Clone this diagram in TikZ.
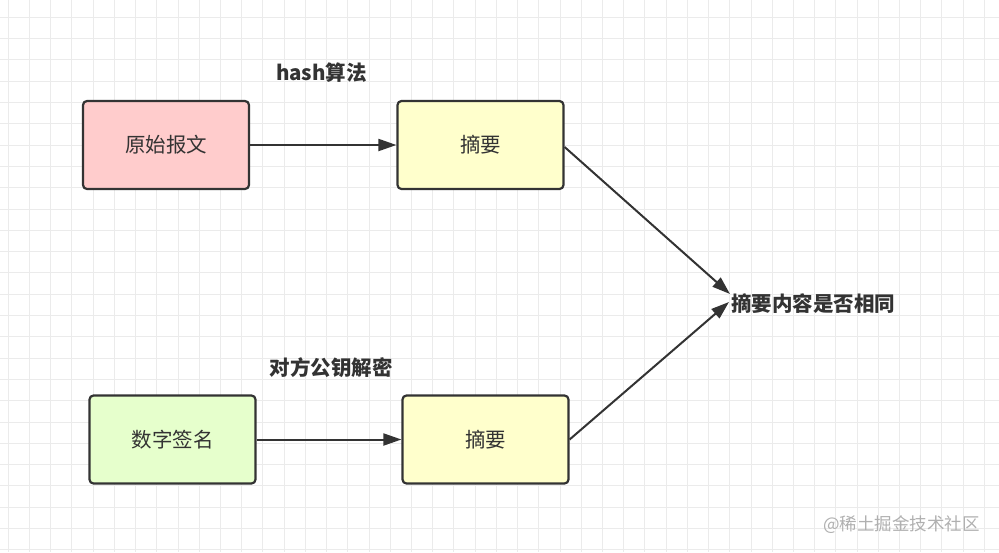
\documentclass[tikz,border=0pt]{standalone}
\usepackage{fontspec}
\newfontfamily\cjk{Noto Sans CJK SC}
\usetikzlibrary{arrows.meta}
\definecolor{gridc}{HTML}{EBEBEB}
\definecolor{boxline}{HTML}{333333}
\definecolor{textc}{HTML}{333333}
\definecolor{linec}{HTML}{333333}
\definecolor{pinkc}{HTML}{FFCCCC}
\definecolor{yelc}{HTML}{FFFFCC}
\definecolor{greenc}{HTML}{E6FFCC}
\definecolor{markc}{HTML}{B0B0B0}
\begin{document}
\begin{tikzpicture}[x=1pt,y=-1pt,
  box/.style={draw=boxline, line width=2.2pt, rounded corners=4pt,
    minimum width=166pt, minimum height=88pt, inner sep=0pt,
    font=\cjk\fontsize{20.5}{20.5}\selectfont, text=textc},
  lbl/.style={font=\cjk\bfseries\fontsize{20.5}{20.5}\selectfont, text=textc, inner sep=0pt},
  arr/.style={draw=linec, line width=2pt, -{Triangle[length=18pt,width=12pt]}},
  gridline/.style={draw=gridc, line width=1pt}
]
\path[use as bounding box, fill=white] (0,0) rectangle (999,552);
\foreach \i in {0,...,47} \draw[gridline] ({8.3+21.22*\i},0) -- ++(0,552);
\foreach \j in {0,...,25} \draw[gridline] (0,{17.3+21.3*\j}) -- ++(999,0);

\node[box, fill=pinkc] (orig) at (166,145) {原始报文};
\node[box, fill=yelc] (dig1) at (480.5,145) {摘要};
\node[box, fill=greenc] (sig) at (172.5,439.5) {数字签名};
\node[box, fill=yelc] (dig2) at (485.5,439.5) {摘要};
\node[lbl] (hash) at (321.5,73) {hash算法};
\node[lbl] (pub) at (331,368) {对方公钥解密};
\node[lbl, anchor=west] (res) at (731,304) {摘要内容是否相同};
\node[font=\cjk\fontsize{17.5}{17.5}\selectfont, text=markc, inner sep=0pt] (mark) at (901.5,525) {@稀土掘金技术社区};

\coordinate (t1) at ([xshift=-1pt,yshift=10pt]res.west);
\coordinate (t2) at ([xshift=-2pt,yshift=2pt]res.west);

\draw[arr] (orig) -- (dig1);
\draw[arr] (sig) -- (dig2);
\draw[arr] ([yshift=-2pt]dig1.east) -- (t1);
\draw[arr] (dig2.east) -- (t2);
\end{tikzpicture}
\end{document}
